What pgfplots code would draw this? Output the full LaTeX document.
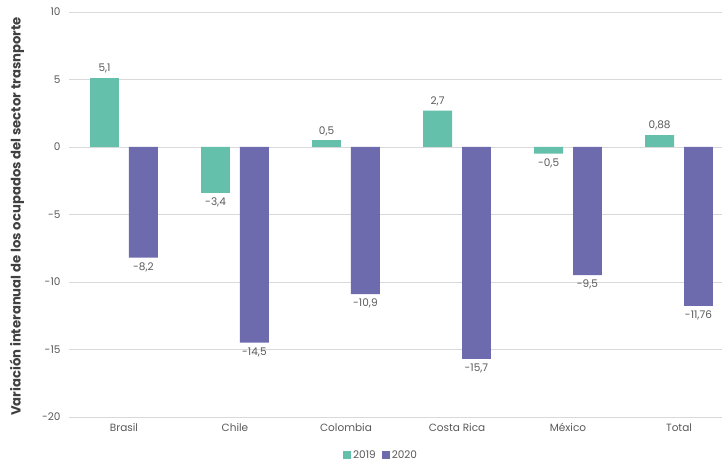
\documentclass[border=0pt]{standalone}
\usepackage{fontspec}
\setmainfont{Poppins}
\usepackage{pgfplots}
\pgfplotsset{compat=1.18}
\definecolor{c19}{HTML}{64BFAB}
\definecolor{c20}{HTML}{6D6AAE}
\definecolor{txt}{HTML}{595959}
\definecolor{lab}{HTML}{404040}
\definecolor{grd}{HTML}{D9D9D9}
\begin{document}
\begin{tikzpicture}
\path[use as bounding box] (-69pt,-45pt) rectangle (653pt,417pt);
\begin{axis}[at={(0,0)}, anchor=south west, scale only axis, width=653pt, height=405pt,
 ymin=-20, ymax=10, ytick={-20,-15,-10,-5,0,5,10}, yticklabels={-20,-15,-10,-5,0,5,10},
 xmin=-0.495, xmax=5.387, xtick={0,1,2,3,4,5},
 xticklabels={Brasil,Chile,Colombia,Costa Rica,México,Total},
 axis line style={draw=none}, major tick length=0pt,
 ymajorgrids, grid style={grd, line width=0.8pt},
 tick label style={font=\fontsize{10.5}{12}\selectfont, text=txt},
 yticklabel style={xshift=-5pt},
 xticklabel style={yshift=-3pt},
 ylabel={Variación interanual de los ocupados del sector trasnporte},
 every axis y label/.style={at={(axis description cs:0,0.5)}, xshift=-52pt, yshift=-2pt, rotate=90, anchor=center, font=\bfseries\fontsize{13.2}{15}\selectfont, text=lab},
 ybar, bar width=0.26,
 point meta=explicit symbolic,
 nodes near coords,
 visualization depends on={y \as \rawy},
 every node near coord/.append style={font=\fontsize{10.5}{12}\selectfont, text=txt, inner sep=4.5pt},
 every node near coord/.append code={\ifdim\rawy pt<0pt \pgfkeysalso{anchor=north}\else\pgfkeysalso{anchor=south}\fi},
 legend style={at={(axis description cs:0.478,0)}, anchor=center, yshift=-38pt, draw=none, font=\fontsize{10.5}{12}\selectfont, text=txt, legend columns=2, /tikz/every even column/.append style={column sep=4pt}},
 legend image code/.code={\fill[#1] (0pt,-4pt) rectangle (8pt,4pt);},
]
\addplot[fill=c19, draw=none, bar shift=-0.175] coordinates {
 (0,5.1) [5,1]
 (1,-3.4) [-3,4]
 (2,0.5) [0,5]
 (3,2.7) [2,7]
 (4,-0.5) [-0,5]
 (5,0.88) [0,88]
};
\addplot[fill=c20, draw=none, bar shift=0.175] coordinates {
 (0,-8.2) [-8,2]
 (1,-14.5) [-14,5]
 (2,-10.9) [-10,9]
 (3,-15.7) [-15,7]
 (4,-9.5) [-9,5]
 (5,-11.76) [-11,76]
};
\legend{2019,2020}
\end{axis}
\end{tikzpicture}
\end{document}
